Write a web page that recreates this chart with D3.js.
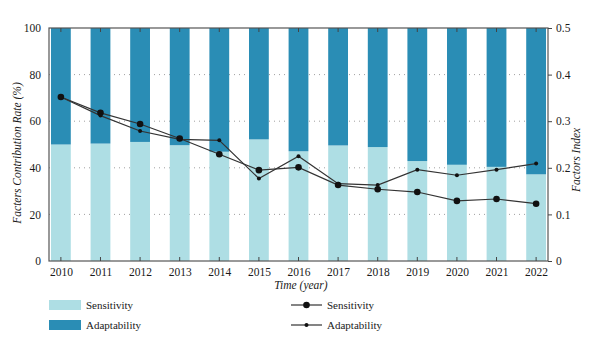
<!DOCTYPE html>
<html>
<head>
<meta charset="UTF-8">
<script src="https://d3js.org/d3.v7.min.js"></script>
<style>
  body { margin: 0; background: #fff; }
  svg text { font-family: "Liberation Serif", "Times New Roman", "DejaVu Serif", serif !important; fill: #1a1a1a; }
</style>
</head>
<body>
<div id="chart"></div>
<script>
var years = ["2010","2011","2012","2013","2014","2015","2016","2017","2018","2019","2020","2021","2022"];
// contribution rate (%) — adaptability is the rest up to 100
var sensitivityRate = [50.0, 50.4, 51.1, 49.7, 46.9, 52.2, 47.1, 49.6, 48.9, 42.9, 41.3, 40.4, 37.2];
var adaptabilityRate = sensitivityRate.map(function(d) { return 100 - d; });
// factors index (right axis)
var sensitivityIndex = [0.352, 0.318, 0.294, 0.263, 0.229, 0.195, 0.201, 0.163, 0.154, 0.148, 0.129, 0.133, 0.123];
var adaptabilityIndex = [0.352, 0.312, 0.279, 0.261, 0.259, 0.177, 0.225, 0.166, 0.163, 0.196, 0.184, 0.196, 0.209];
var leftTicks = [0, 20, 40, 60, 80, 100];
var rightTicks = [0, 0.1, 0.2, 0.3, 0.4, 0.5];

var W = 600, H = 344;
var margin = {top: 28, right: 52, bottom: 83, left: 49};
var width = W - margin.left - margin.right,
    height = H - margin.top - margin.bottom;

var lightColor = "#aedee4", darkColor = "#2a8db5", lineColor = "#333";

var svg = d3.select("#chart").append("svg")
    .attr("width", W).attr("height", H);
var g = svg.append("g")
    .attr("transform", "translate(" + margin.left + "," + margin.top + ")");

var x = d3.scalePoint().domain(years).range([0, width]).padding(0.3);
var yL = d3.scaleLinear().domain([0, 100]).range([height, 0]);
var yR = d3.scaleLinear().domain([0, 0.5]).range([height, 0]);
var barW = x.step() * 0.5;

// dotted grid
g.selectAll(".grid").data([20, 40, 60, 80]).enter().append("line")
    .attr("x1", 0).attr("x2", width)
    .attr("y1", function(d) { return yL(d); }).attr("y2", function(d) { return yL(d); })
    .attr("stroke", "#888").attr("stroke-width", 0.8).attr("stroke-dasharray", "1,4");

// stacked bars
g.selectAll(".sens").data(sensitivityRate).enter().append("rect")
    .attr("x", function(d, i) { return x(years[i]) - barW / 2; })
    .attr("width", barW)
    .attr("y", function(d) { return yL(d); })
    .attr("height", function(d) { return height - yL(d); })
    .attr("fill", lightColor);
g.selectAll(".adap").data(adaptabilityRate).enter().append("rect")
    .attr("x", function(d, i) { return x(years[i]) - barW / 2; })
    .attr("width", barW)
    .attr("y", 0)
    .attr("height", function(d, i) { return yL(sensitivityRate[i]); })
    .attr("fill", darkColor);

// frame
g.append("rect").attr("width", width).attr("height", height)
    .attr("fill", "none").attr("stroke", "#555").attr("stroke-width", 1.2);

// x ticks (inside, top and bottom)
years.forEach(function(yr) {
  g.append("line").attr("x1", x(yr)).attr("x2", x(yr)).attr("y1", height).attr("y2", height - 4)
      .attr("stroke", "#444");
  g.append("line").attr("x1", x(yr)).attr("x2", x(yr)).attr("y1", 0).attr("y2", 4)
      .attr("stroke", "#444");
});

// axes
var xAxis = g.append("g").attr("transform", "translate(0," + height + ")")
    .call(d3.axisBottom(x).tickSize(0).tickPadding(7));
var lAxis = g.append("g")
    .call(d3.axisLeft(yL).tickValues(leftTicks).tickSize(0).tickPadding(8));
var rAxis = g.append("g").attr("transform", "translate(" + width + ",0)")
    .call(d3.axisRight(yR).tickValues(rightTicks).tickSize(4).tickPadding(4)
      .tickFormat(function(d) { return d === 0 ? "0" : d3.format(".1f")(d); }));
[xAxis, lAxis, rAxis].forEach(function(a) {
  a.attr("font-family", null).attr("font-size", null);
  a.select(".domain").remove();
  a.selectAll("text").style("font-size", "11.5px").attr("fill", "#1a1a1a");
  a.selectAll("line").attr("stroke", "#444");
});

// lines
var line = d3.line()
    .x(function(d, i) { return x(years[i]); })
    .y(function(d) { return yR(d); });
g.append("path").datum(sensitivityIndex).attr("d", line)
    .attr("fill", "none").attr("stroke", lineColor).attr("stroke-width", 1.2);
g.append("path").datum(adaptabilityIndex).attr("d", line)
    .attr("fill", "none").attr("stroke", lineColor).attr("stroke-width", 1.2);
g.selectAll(".sdot").data(sensitivityIndex).enter().append("circle")
    .attr("cx", function(d, i) { return x(years[i]); })
    .attr("cy", function(d) { return yR(d); })
    .attr("r", 3.3).attr("fill", "#111");
g.selectAll(".adot").data(adaptabilityIndex).enter().append("circle")
    .attr("cx", function(d, i) { return x(years[i]); })
    .attr("cy", function(d) { return yR(d); })
    .attr("r", 2).attr("fill", "#111");

// axis titles
svg.append("text").attr("transform", "translate(21,153) rotate(-90)")
    .attr("text-anchor", "middle").style("font-size", "11.5px").attr("font-style", "italic")
    .text("Facters Contribution Rate (%)");
svg.append("text").attr("transform", "translate(580,160) rotate(-90)")
    .attr("text-anchor", "middle").style("font-size", "11.5px").attr("font-style", "italic")
    .text("Factors Index");
svg.append("text").attr("x", 301).attr("y", 289)
    .attr("text-anchor", "middle").style("font-size", "11.5px").attr("font-style", "italic")
    .text("Time (year)");

// legend
var barLegend = [{name: "Sensitivity", color: lightColor}, {name: "Adaptability", color: darkColor}];
barLegend.forEach(function(d, i) {
  var yy = 300 + i * 20;
  svg.append("rect").attr("x", 49).attr("y", yy).attr("width", 32).attr("height", 10).attr("fill", d.color);
  svg.append("text").attr("x", 86).attr("y", yy + 8.5).style("font-size", "11px").text(d.name);
});
var lineLegend = [{name: "Sensitivity", r: 3.3}, {name: "Adaptability", r: 2}];
lineLegend.forEach(function(d, i) {
  var yy = 305 + i * 20;
  svg.append("line").attr("x1", 291).attr("x2", 322).attr("y1", yy).attr("y2", yy)
      .attr("stroke", lineColor).attr("stroke-width", 1.2);
  svg.append("circle").attr("cx", 306.5).attr("cy", yy).attr("r", d.r).attr("fill", "#111");
  svg.append("text").attr("x", 327).attr("y", yy + 3.5).style("font-size", "11px").text(d.name);
});
</script>
</body>
</html>
